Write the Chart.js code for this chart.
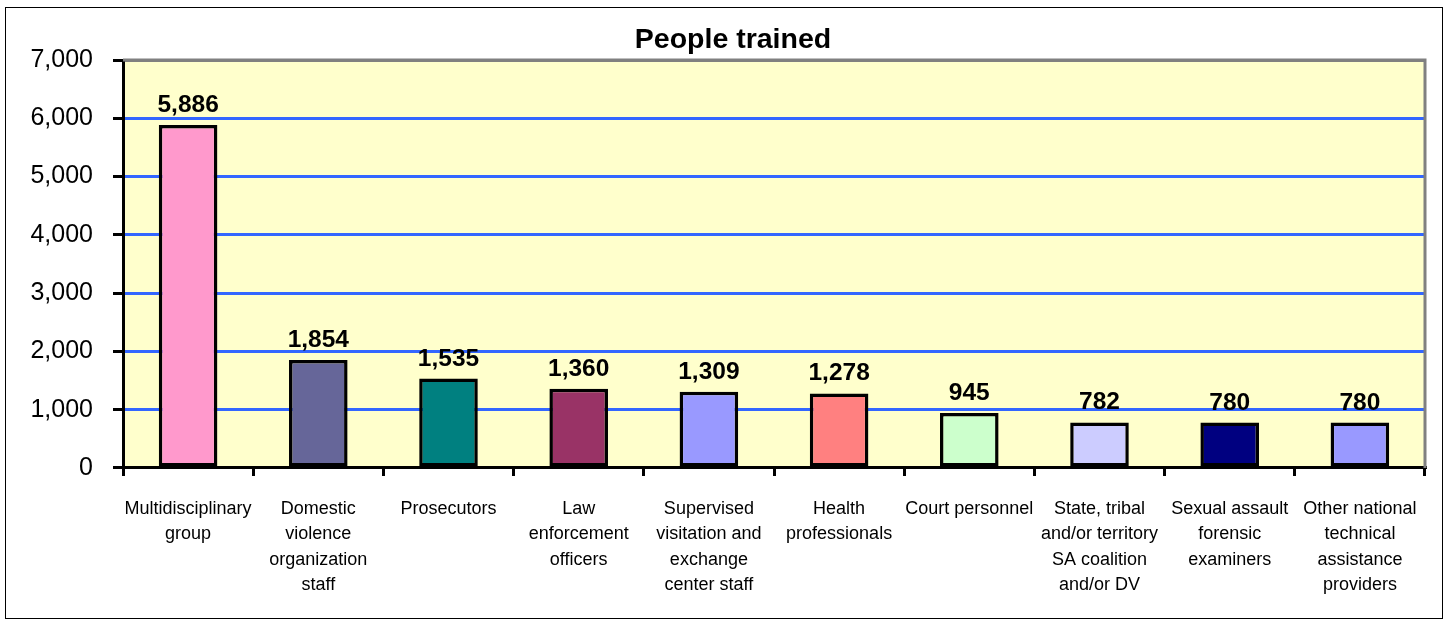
<!DOCTYPE html>
<html>
<head>
<meta charset="utf-8">
<script src="https://cdn.jsdelivr.net/npm/chart.js@4"></script>
<style>
html,body{margin:0;padding:0;background:#fff;}
#wrap{position:absolute;left:0;top:0;width:1450px;height:627px;}
#frame{position:absolute;left:5px;top:7px;width:1438px;height:612px;border:1px solid #000;box-sizing:border-box;pointer-events:none;}
</style>
</head>
<body>
<div id="wrap"><canvas id="c" width="1450" height="627"></canvas></div>
<div id="frame"></div>
<script>
const categories = [
  ["Multidisciplinary", "group"],
  ["Domestic", "violence", "organization", "staff"],
  ["Prosecutors"],
  ["Law", "enforcement", "officers"],
  ["Supervised", "visitation and", "exchange", "center staff"],
  ["Health", "professionals"],
  ["Court personnel"],
  ["State, tribal", "and/or territory", "SA coalition", "and/or DV"],
  ["Sexual assault", "forensic", "examiners"],
  ["Other national", "technical", "assistance", "providers"]
];
const peopleTrained = [5886, 1854, 1535, 1360, 1309, 1278, 945, 782, 780, 780];
const barColors = ["#FF99CC", "#666699", "#008080", "#993366", "#9999FF", "#FF8080", "#CCFFCC", "#CCCCFF", "#000080", "#9999FF"];
const yTicks = [0, 1000, 2000, 3000, 4000, 5000, 6000, 7000];
const titleText = "People trained";

const FONT = "'Liberation Sans', Arial, sans-serif";

const plotDecor = {
  id: 'plotDecor',
  beforeDraw(chart) {
    const {ctx, chartArea: a} = chart;
    ctx.save();
    ctx.fillStyle = '#FFFFCC';
    ctx.fillRect(a.left, a.top, a.right - a.left, a.bottom - a.top);
    ctx.restore();
  },
  afterDatasetsDraw(chart) {
    const {ctx, chartArea: a} = chart;
    ctx.save();
    ctx.strokeStyle = '#808080';
    ctx.lineWidth = 3;
    ctx.beginPath();
    ctx.moveTo(a.left, a.top);
    ctx.lineTo(a.right, a.top);
    ctx.lineTo(a.right, a.bottom);
    ctx.stroke();
    // title
    ctx.fillStyle = '#000';
    ctx.font = "bold 28.5px " + FONT;
    ctx.textAlign = 'center';
    ctx.textBaseline = 'alphabetic';
    ctx.fillText(titleText, 733, 48);
    // value labels
    const meta = chart.getDatasetMeta(0);
    ctx.font = "bold 24.5px " + FONT;
    meta.data.forEach((bar, i) => {
      ctx.fillText(peopleTrained[i].toLocaleString('en-US'), bar.x, bar.y - 13);
    });
    ctx.restore();
  }
};

new Chart(document.getElementById('c'), {
  type: 'bar',
  data: {
    labels: categories,
    datasets: [{
      data: peopleTrained,
      backgroundColor: barColors,
      borderColor: '#000',
      borderWidth: 3.5,
      borderSkipped: false,
      barPercentage: 0.45,
      categoryPercentage: 1.0
    }]
  },
  plugins: [plotDecor],
  options: {
    responsive: false,
    animation: false,
    devicePixelRatio: 1,
    layout: { padding: { left: 0, right: 25, top: 60, bottom: 9 } },
    plugins: {
      legend: { display: false },
      tooltip: { enabled: false },
      title: { display: false }
    },
    scales: {
      x: {
        grid: {
          offset: true,
          drawOnChartArea: false,
          drawTicks: true,
          tickLength: 8,
          tickColor: '#000',
          tickWidth: 3,
          lineWidth: 3,
          color: '#000'
        },
        border: { display: true, color: '#000', width: 3 },
        ticks: {
          color: '#000',
          font: { family: FONT, size: 18, lineHeight: 1.417 },
          padding: 20,
          maxRotation: 0,
          autoSkip: false
        }
      },
      y: {
        min: 0,
        max: 7000,
        afterFit(scale) { scale.width = 123; },
        afterBuildTicks(scale) { scale.ticks = yTicks.map(v => ({ value: v })); },
        grid: {
          color: (c) => (c.tick && c.tick.value === 7000) ? '#808080' : '#3366FF',
          lineWidth: 3,
          tickColor: '#000',
          tickLength: 10,
          tickWidth: 3
        },
        border: { display: true, color: '#000', width: 3 },
        ticks: {
          color: '#000',
          font: { family: FONT, size: 25 },
          padding: 20,
          callback: (v) => Number(v).toLocaleString('en-US')
        }
      }
    }
  }
});
</script>
</body>
</html>
